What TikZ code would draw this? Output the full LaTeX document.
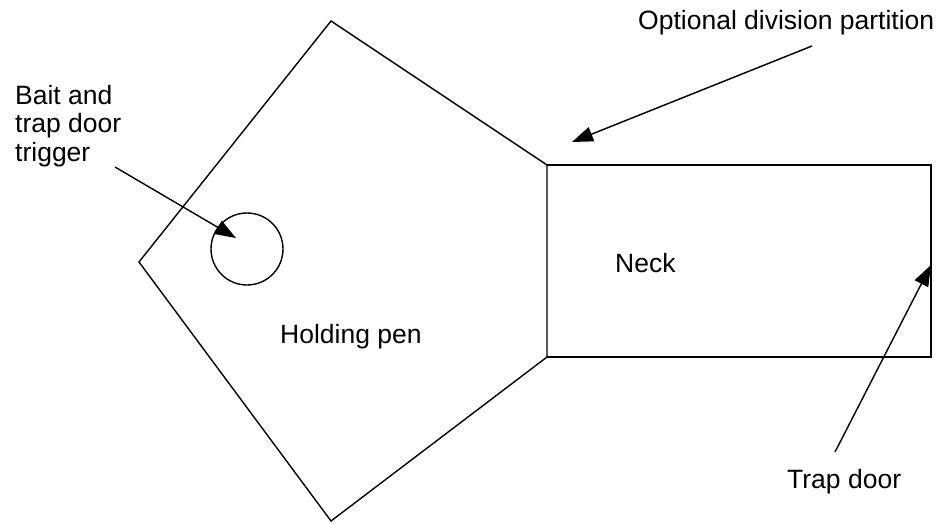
\documentclass[tikz,border=0pt]{standalone}
\usepackage{fontspec}
\setmainfont{Liberation Sans}
\usetikzlibrary{arrows.meta}
\begin{document}
\begin{tikzpicture}[x=1pt,y=-1pt,
  line/.style={line width=1.4pt,line join=miter},
  ptr/.style={line width=1.4pt,-{Triangle[length=21pt,width=15pt]}},
  lbl/.style={inner sep=0pt,font=\fontsize{26.5}{28.5}\selectfont,anchor=base west,align=left}]
\useasboundingbox (0,0) rectangle (939,524);
% pentagon (holding pen)
\coordinate (pT) at (331,21);
\coordinate (pR1) at (547,165);
\coordinate (pR2) at (547,357);
\coordinate (pB) at (331,521);
\coordinate (pL) at (139,262);
\draw[line] (pT) -- (pR1) -- (pR2) -- (pB) -- (pL) -- cycle;
% neck rectangle
\coordinate (nTR) at (931,165);
\coordinate (nBR) at (931,357);
\draw[line] (pR1) -- (nTR) -- (nBR) -- (pR2);
% bait circle
\node[draw,circle,line width=1.4pt,minimum size=72pt,inner sep=0pt] (bait) at (247,249) {};
% labels
\node[lbl] (baitlbl) at (15,161) {Bait and\\trap door\\trigger};
\node[lbl] (optlbl) at (638,30) {Optional division partition};
\node[lbl] (necklbl) at (615,272) {Neck};
\node[lbl] (penlbl) at (280,343) {Holding pen};
\node[lbl] (traplbl) at (787,488) {Trap door};
% arrows
\coordinate (a1s) at (115,167);
\coordinate (a1e) at (236,238);
\draw[ptr] (a1s) -- (a1e);
\coordinate (a2s) at (812,46);
\coordinate (a2e) at (572,142);
\draw[ptr] (a2s) -- (a2e);
\coordinate (a3s) at (835,452);
\coordinate (a3e) at (931,265);
\draw[ptr] (a3s) -- (a3e);
\end{tikzpicture}
\end{document}
